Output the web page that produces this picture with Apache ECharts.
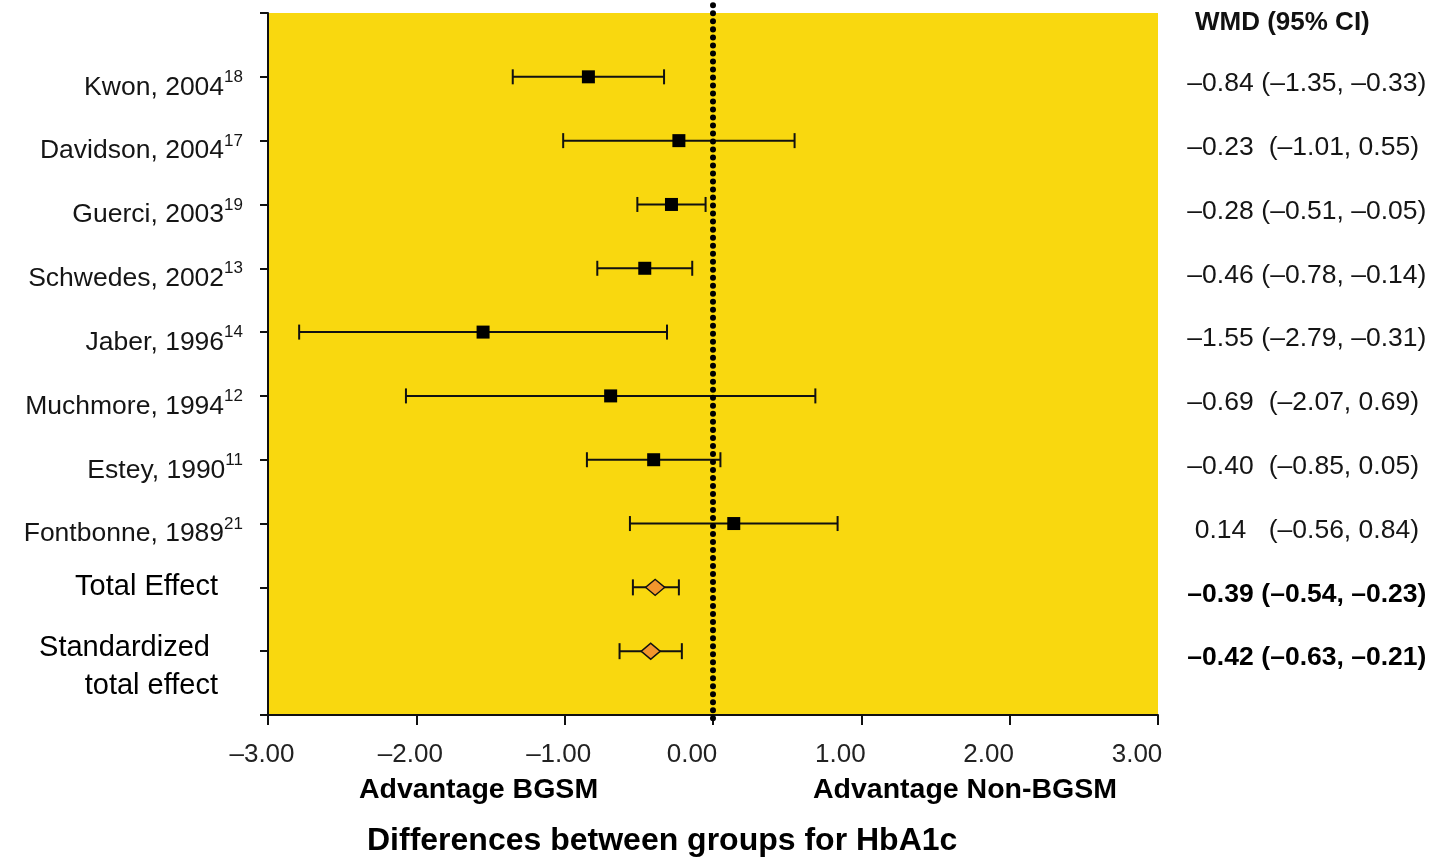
<!DOCTYPE html>
<html>
<head>
<meta charset="utf-8">
<script src="https://cdn.jsdelivr.net/npm/echarts@6/dist/echarts.min.js"></script>
<style>
html,body{margin:0;padding:0;background:#fff;}
#chart{width:1441px;height:857px;}
</style>
</head>
<body>
<div id="chart"></div>
<script>
// ---- data ----
const studies = ['Kwon, 2004', 'Davidson, 2004', 'Guerci, 2003', 'Schwedes, 2002', 'Jaber, 1996', 'Muchmore, 1994', 'Estey, 1990', 'Fontbonne, 1989'];
const refs = ['18', '17', '19', '13', '14', '12', '11', '21'];
const studyEst = [-0.84, -0.23, -0.28, -0.46, -1.55, -0.69, -0.40, 0.14];
const studyLo = [-1.35, -1.01, -0.51, -0.78, -2.79, -2.07, -0.85, -0.56];
const studyHi = [-0.33, 0.55, -0.05, -0.14, -0.31, 0.69, 0.05, 0.84];
const pooledNames = ['Total Effect', 'Standardized\ntotal effect'];
const pooledEst = [-0.39, -0.42];
const pooledLo = [-0.54, -0.63];
const pooledHi = [-0.23, -0.21];
const noEffect = 0;
const columnHeader = 'WMD (95% CI)';
const xMin = -3, xMax = 3, xStep = 1;
const xTitle = 'Differences between groups for HbA1c';
const leftNote = 'Advantage BGSM';
const rightNote = 'Advantage Non-BGSM';

// ---- helpers ----
const FONT = "'Liberation Sans', Arial, Helvetica, sans-serif";
const fmt = v => (v < 0 ? '\u2013' : '') + Math.abs(v).toFixed(2);
const nRows = studies.length + pooledNames.length; // 10
const studyRows = studies.map((_, i) => i + 1);
const pooledRows = pooledNames.map((_, i) => studies.length + i + 1);

function leftLabel(v) {
  if (v >= 1 && v <= studies.length) {
    const i = v - 1;
    return '{n|' + studies[i] + '}{s|' + refs[i] + '}';
  }
  const j = v - studies.length - 1;
  if (j === 0) return '{t|' + pooledNames[0] + '}\n{g| }';
  if (j === 1) {
    const parts = pooledNames[1].split('\n');
    return '{g| }\n{t|' + parts[0] + ' }\n{t|' + parts[1] + '}';
  }
  return '';
}
function ciText(lo, hi) {
  return (hi >= 0 ? '  (' : ' (') + fmt(lo) + ', ' + fmt(hi) + ')';
}
function rightLabel(v) {
  if (v === 0) return '{h|' + columnHeader + '}';
  if (v >= 1 && v <= studies.length) {
    const i = v - 1;
    return '{e|' + fmt(studyEst[i]) + '}{c|' + ciText(studyLo[i], studyHi[i]) + '}';
  }
  const j = v - studies.length - 1;
  if (j >= 0 && j < pooledNames.length) {
    return '{eb|' + fmt(pooledEst[j]) + '}{cb|' + ciText(pooledLo[j], pooledHi[j]) + '}';
  }
  return '';
}

function errRender(capHalf) {
  return function (params, api) {
    const y = api.value(2);
    const a = api.coord([api.value(0), y]);
    const b = api.coord([api.value(1), y]);
    const st = { stroke: '#111', lineWidth: 2 };
    return {
      type: 'group',
      children: [
        { type: 'line', shape: { x1: a[0], y1: a[1], x2: b[0], y2: b[1] }, style: st },
        { type: 'line', shape: { x1: a[0], y1: a[1] - capHalf, x2: a[0], y2: a[1] + capHalf }, style: st },
        { type: 'line', shape: { x1: b[0], y1: b[1] - capHalf, x2: b[0], y2: b[1] + capHalf }, style: st }
      ]
    };
  };
}
function zeroRender(params, api) {
  const x = api.value(0);
  const a = api.coord([x, api.value(1)]);
  const b = api.coord([x, api.value(2)]);
  return {
    type: 'line',
    shape: { x1: a[0], y1: a[1], x2: b[0], y2: b[1] },
    style: { stroke: '#000', lineWidth: 6, lineDash: [0.01, 8], lineCap: 'round' }
  };
}

const chart = echarts.init(document.getElementById('chart'), null, { renderer: 'canvas' });

const option = {
  backgroundColor: '#ffffff',
  animation: false,
  textStyle: { fontFamily: FONT },
  title: [
    { text: leftNote, left: 354, top: 771, textStyle: { fontFamily: FONT, fontSize: 28.5, fontWeight: 'bold', color: '#000' } },
    { text: rightNote, left: 808, top: 771, textStyle: { fontFamily: FONT, fontSize: 28.5, fontWeight: 'bold', color: '#000' } },
    { text: xTitle, left: 362, top: 820, textStyle: { fontFamily: FONT, fontSize: 32, fontWeight: 'bold', color: '#000' } }
  ],
  grid: {
    left: 268, right: 283, top: 13, bottom: 142,
    outerBoundsMode: 'none', containLabel: false,
    show: true, backgroundColor: '#F9D80F', borderWidth: 0
  },
  xAxis: {
    type: 'value', min: xMin, max: xMax, interval: xStep,
    axisLine: { show: true, onZero: false, lineStyle: { color: '#111', width: 2 } },
    axisTick: { show: true, length: 10, lineStyle: { color: '#111', width: 2 } },
    splitLine: { show: false },
    axisLabel: {
      margin: 27,
      formatter: v => (v < 0 ? '{n|' : '{p|') + fmt(v) + '}',
      rich: {
        n: { fontFamily: FONT, fontSize: 26, color: '#222', padding: [0, 12, 0, 0] },
        p: { fontFamily: FONT, fontSize: 26, color: '#222', padding: [0, 42, 0, 0] }
      }
    }
  },
  yAxis: [
    {
      type: 'value', min: 0, max: nRows + 1, interval: 1, inverse: true, position: 'left',
      axisLine: { show: true, onZero: false, lineStyle: { color: '#111', width: 2 } },
      axisTick: { show: true, length: 8, lineStyle: { color: '#111', width: 2 } },
      splitLine: { show: false },
      axisLabel: {
        margin: 25, padding: [16, 0, 0, 0],
        formatter: leftLabel,
        rich: {
          n: { fontFamily: FONT, fontSize: 26.5, color: '#151515', lineHeight: 32, verticalAlign: 'bottom' },
          s: { fontFamily: FONT, fontSize: 17, color: '#151515', lineHeight: 32, verticalAlign: 'top' },
          t: { fontFamily: FONT, fontSize: 29, color: '#000', lineHeight: 38, padding: [0, 25, 0, 0] },
          g: { fontFamily: FONT, fontSize: 10, lineHeight: 16 }
        }
      }
    },
    {
      type: 'value', min: 0, max: nRows + 1, interval: 1, inverse: true, position: 'right',
      axisLine: { show: false }, axisTick: { show: false }, splitLine: { show: false },
      axisLabel: {
        margin: 29, align: 'left', padding: [14, 0, 0, 0],
        formatter: rightLabel,
        rich: {
          h: { fontFamily: FONT, fontSize: 26, fontWeight: 'bold', color: '#111', lineHeight: 30, padding: [6, 0, 0, 8] },
          e: { fontFamily: FONT, fontSize: 26.5, color: '#151515', width: 67, align: 'right' },
          c: { fontFamily: FONT, fontSize: 26.5, color: '#151515' },
          eb: { fontFamily: FONT, fontSize: 26.5, fontWeight: 'bold', color: '#000', width: 67, align: 'right' },
          cb: { fontFamily: FONT, fontSize: 26.5, fontWeight: 'bold', color: '#000' }
        }
      }
    }
  ],
  series: [
    {
      type: 'custom', name: 'study CI', renderItem: errRender(7.5),
      encode: { x: [0, 1], y: 2 },
      data: studies.map((_, i) => [studyLo[i], studyHi[i], studyRows[i]]),
      z: 3
    },
    {
      type: 'custom', name: 'pooled CI', renderItem: errRender(8),
      encode: { x: [0, 1], y: 2 },
      data: pooledNames.map((_, i) => [pooledLo[i], pooledHi[i], pooledRows[i]]),
      z: 3
    },
    {
      type: 'scatter', name: 'study', symbol: 'rect', symbolSize: 13,
      itemStyle: { color: '#000', opacity: 1 },
      data: studies.map((_, i) => [studyEst[i], studyRows[i]]),
      z: 5
    },
    {
      type: 'scatter', name: 'pooled', symbol: 'diamond', symbolSize: [19, 16],
      itemStyle: { color: '#F2962C', borderColor: '#111', borderWidth: 1.5, opacity: 1 },
      data: pooledNames.map((_, i) => [pooledEst[i], pooledRows[i]]),
      z: 4
    },
    {
      type: 'custom', name: 'no effect', renderItem: zeroRender, clip: false, silent: true,
      encode: { x: 0, y: [1, 2] },
      data: [[noEffect, -0.12, nRows + 1.1]],
      z: 6
    }
  ]
};
chart.setOption(option);
</script>
</body>
</html>
